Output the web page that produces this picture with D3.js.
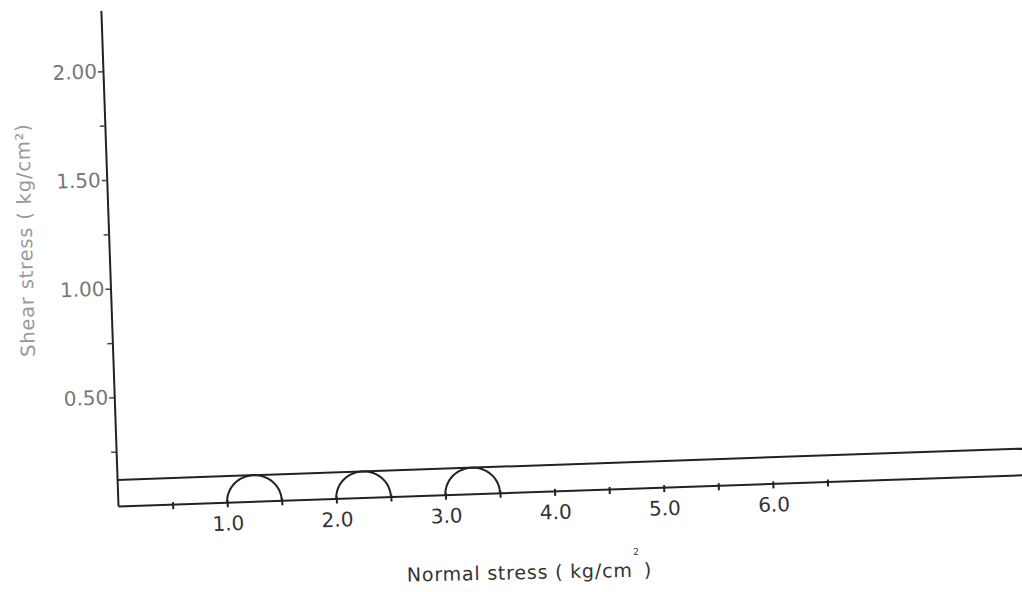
<!DOCTYPE html>
<html>
<head>
<meta charset="utf-8">
<script src="https://cdn.jsdelivr.net/npm/d3@7"></script>
<style>
  body { margin: 0; background: #fff; }
  svg { display: block; font-family: "DejaVu Sans", sans-serif; }
</style>
</head>
<body>
<svg width="1022" height="592"></svg>
<script>
// data
const sigmaTicks = [0.5, 1.0, 1.5, 2.0, 2.5, 3.0, 3.5, 4.0, 4.5, 5.0, 5.5, 6.0, 6.5];
const sigmaLabels = ['1.0', '2.0', '3.0', '4.0', '5.0', '6.0'];
const tauTicks = [0.25, 0.50, 0.75, 1.00, 1.25, 1.50, 1.75, 2.00];
const tauLabels = ['0.50', '1.00', '1.50', '2.00'];
const sigma3 = [1.0, 2.0, 3.0]; // left end of each circle
const sigma1 = [1.5, 2.5, 3.5]; // right end of each circle
const envelope = [0.12]; // shear strength line (horizontal)
const sigmaMax = 8.5;
const tauMax = 2.28;

function render() {
    const svg = d3.select('svg');
    const ox = 118, oy = 506; // origin of the scanned plot

    // the scanned page is tilted a little
    const g = svg.append('g')
        .attr('transform', `rotate(-1.98, ${ox}, ${oy})`);

    const x = d3.scaleLinear()
        .domain([0, sigmaMax])
        .range([ox, ox + 109.2 * sigmaMax]);

    const y = d3.scaleLinear()
        .domain([0, tauMax])
        .range([oy, oy - 217.5 * tauMax]);

    // x axis
    const xAxis = d3.axisBottom(x)
        .tickValues(sigmaTicks)
        .tickSizeInner(5)
        .tickSizeOuter(0)
        .tickPadding(9)
        .tickFormat(d => {
            const i = sigmaLabels.indexOf(d.toFixed(1));
            return i >= 0 ? sigmaLabels[i] : '';
        });

    const gx = g.append('g')
        .attr('transform', `translate(0, ${oy})`)
        .call(xAxis);
    gx.select('.domain').attr('stroke', '#222').attr('stroke-width', 2);
    gx.selectAll('.tick line').attr('y1', -2).attr('stroke', '#222').attr('stroke-width', 2);
    gx.selectAll('.tick text')
        .attr('fill', '#333')
        .style('font-family', '"DejaVu Sans", sans-serif')
        .style('font-size', '20px');

    // y axis
    const yAxis = d3.axisLeft(y)
        .tickValues(tauTicks)
        .tickSizeInner(5)
        .tickSizeOuter(0)
        .tickPadding(1)
        .tickFormat(d => {
            const i = tauLabels.indexOf(d.toFixed(2));
            return i >= 0 ? tauLabels[i] : '';
        });

    const gy = g.append('g')
        .attr('transform', `translate(${ox}, 0)`)
        .call(yAxis);
    gy.select('.domain').attr('stroke', '#222').attr('stroke-width', 2);
    gy.selectAll('.tick line').attr('stroke', '#444').attr('stroke-width', 1.5);
    gy.selectAll('.tick text')
        .attr('fill', '#777')
        .style('font-family', '"DejaVu Sans", sans-serif')
        .style('font-size', '20px');

    // envelope line
    g.selectAll('line.envelope')
        .data(envelope)
        .enter()
        .append('line')
        .attr('class', 'envelope')
        .attr('x1', x(0))
        .attr('x2', x(sigmaMax))
        .attr('y1', d => y(d))
        .attr('y2', d => y(d))
        .attr('stroke', '#222')
        .attr('stroke-width', 2);

    // Mohr half circles, touching the envelope
    const arc = d3.line()
        .x(p => x(p[0]))
        .y(p => y(p[1]));

    const circles = sigma3.map((s3, i) => {
        const c = (s3 + sigma1[i]) / 2;
        const r = (sigma1[i] - s3) / 2;
        return d3.range(0, 181, 3).map(a => {
            const t = Math.PI - a * Math.PI / 180;
            return [c + r * Math.cos(t), envelope[0] * Math.sin(t)];
        });
    });

    g.selectAll('path.mohr')
        .data(circles)
        .enter()
        .append('path')
        .attr('class', 'mohr')
        .attr('d', arc)
        .attr('fill', 'none')
        .attr('stroke', '#222')
        .attr('stroke-width', 2);

    // axis titles (outside the tilted group, own small tilt)
    const xt = svg.append('text')
        .attr('x', 407)
        .attr('y', 579)
        .attr('transform', 'rotate(-1.2, 528, 579)')
        .attr('fill', '#333')
        .style('font-size', '19px')
        .style('letter-spacing', '0.8px');
    xt.append('tspan').text('Normal stress ( kg/cm');
    xt.append('tspan').text('2').attr('dx', 1).attr('dy', -22).style('font-size', '9px');
    xt.append('tspan').text(' )').attr('dx', -3).attr('dy', 22);

    svg.append('text')
        .attr('transform', 'translate(32, 240) rotate(-91.5)')
        .attr('text-anchor', 'middle')
        .attr('fill', '#999')
        .style('font-size', '19.5px')
        .style('letter-spacing', '0.8px')
        .text('Shear stress ( kg/cm²)');
}

render();
</script>
</body>
</html>
